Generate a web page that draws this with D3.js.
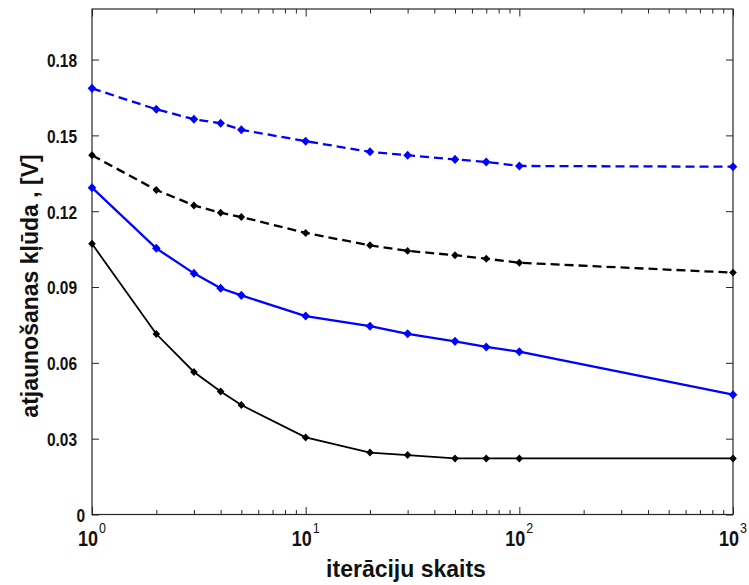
<!DOCTYPE html>
<html>
<head>
<meta charset="utf-8">
<script src="https://cdn.jsdelivr.net/npm/d3@7.9.0/dist/d3.min.js"></script>
<style>
  body { margin: 0; background: #fff; }
  svg { display: block; font-family: "Liberation Sans", Arial, sans-serif; }
</style>
</head>
<body>
<svg id="chart" width="749" height="585"></svg>
<script>
// iteration counts (x) and the four error curves
const iterations = [1, 2, 3, 4, 5, 10, 20, 30, 50, 70, 100, 1000];
const blueDashed = [0.1686, 0.1603, 0.1564, 0.1548, 0.1522, 0.1477, 0.1435, 0.1421, 0.1405, 0.1395, 0.1379, 0.1376];
const blackDashed = [0.1421, 0.1284, 0.1223, 0.1194, 0.1177, 0.1114, 0.1065, 0.1043, 0.1026, 0.1012, 0.0996, 0.0957];
const blueSolid = [0.1293, 0.1053, 0.0954, 0.0895, 0.0867, 0.0785, 0.0745, 0.0715, 0.0685, 0.0663, 0.0644, 0.0474];
const blackSolid = [0.1071, 0.0714, 0.0564, 0.0487, 0.0433, 0.0305, 0.0245, 0.0235, 0.0222, 0.0222, 0.0222, 0.0222];

const yTicks = [0, 0.03, 0.06, 0.09, 0.12, 0.15, 0.18];
const xMajor = [1, 10, 100, 1000];
const xExponents = ["0", "1", "2", "3"];

const series = [
    { values: blueDashed, color: "#0000ff", dash: "9,5", width: 2.3, mark: 4.3 },
    { values: blackDashed, color: "#000000", dash: "9,5", width: 2.3, mark: 3.8 },
    { values: blueSolid, color: "#0000ff", dash: null, width: 2.3, mark: 4.3 },
    { values: blackSolid, color: "#000000", dash: null, width: 1.8, mark: 3.8 }
];

const svg = d3.select('#chart');
const pLeft = 92, pRight = 733, pTop = 9, pBottom = 514.5;

const x = d3.scaleLog().domain([1, 1000]).range([pLeft, pRight]);
const y = d3.scaleLinear().domain([0, 0.2]).range([pBottom, pTop]);

const axisColor = '#262626';

// minor + major ticks, bottom and top (inward)
const minor = x.ticks().filter(t => !xMajor.includes(t));
function xAxis(gen, ty) {
    const g = svg.append('g').attr('transform', `translate(0,${ty})`).call(gen);
    g.select('.domain').remove();
    g.selectAll('.tick text').remove();
    g.selectAll('.tick line').attr('stroke', axisColor);
}
xAxis(d3.axisBottom(x).tickValues(minor).tickSize(-4.5), pBottom);
xAxis(d3.axisBottom(x).tickValues(xMajor).tickSize(-7.5), pBottom);
xAxis(d3.axisTop(x).tickValues(minor).tickSize(-4.5), pTop);
xAxis(d3.axisTop(x).tickValues(xMajor).tickSize(-7.5), pTop);

// y axis left with labels, right mirrored
const yLeft = svg.append('g')
    .attr('transform', `translate(${pLeft},0)`)
    .call(d3.axisLeft(y).tickValues(yTicks).tickSize(-7)
        .tickFormat(d => d === 0 ? '0' : d.toFixed(2)));
yLeft.select('.domain').remove();
yLeft.selectAll('.tick line').attr('stroke', axisColor);
yLeft.selectAll('.tick text')
    .attr('x', d => d === 0 ? -7 : -15)
    .attr('dy', '0.36em')
    .attr('transform', 'scale(1,1.22)')
    .attr('fill', '#111')
    .style('font-size', '15.5px')
    .style('font-weight', 'bold');

const yRight = svg.append('g')
    .attr('transform', `translate(${pRight},0)`)
    .call(d3.axisRight(y).tickValues(yTicks).tickSize(-7).tickFormat(''));
yRight.select('.domain').remove();
yRight.selectAll('.tick line').attr('stroke', axisColor);

// frame
svg.append('rect')
    .attr('x', pLeft).attr('y', pTop)
    .attr('width', pRight - pLeft).attr('height', pBottom - pTop)
    .attr('fill', 'none').attr('stroke', axisColor).attr('stroke-width', 1.2);

// x tick labels 10^n
const xl = svg.append('g').selectAll('g').data(xMajor).join('g')
    .attr('transform', d => `translate(${x(d)},546) scale(1,1.2)`);
const xt = xl.append('text')
    .attr('text-anchor', 'middle')
    .attr('fill', '#111');
xt.append('tspan').text('10').style('font-size', '18px').style('font-weight', 'bold');
xt.append('tspan').text((d, i) => xExponents[i]).attr('dy', -10.8).attr('dx', 1)
    .style('font-size', '12.5px');

// lines + diamond markers (matlab style, nearly square diamond)
const line = d3.line().x(d => x(d[0])).y(d => y(d[1]));
function diamondOf(w) {
    return d3.symbol().type({
        draw(ctx) {
            const h = w * 1.05;
            ctx.moveTo(0, -h); ctx.lineTo(w, 0); ctx.lineTo(0, h); ctx.lineTo(-w, 0); ctx.closePath();
        }
    });
}

series.forEach(s => {
    const pts = iterations.map((it, i) => [it, s.values[i]]);
    svg.append('path')
        .datum(pts)
        .attr('d', line)
        .attr('fill', 'none')
        .attr('stroke', s.color)
        .attr('stroke-width', s.width)
        .attr('stroke-dasharray', s.dash);
    svg.append('g').selectAll('path').data(pts).join('path')
        .attr('d', diamondOf(s.mark))
        .attr('transform', d => `translate(${x(d[0])},${y(d[1])})`)
        .attr('fill', s.color);
});

// axis titles
svg.append('text')
    .attr('x', 406).attr('y', 577)
    .attr('text-anchor', 'middle')
    .attr('fill', '#111')
    .style('font-size', '23px').style('font-weight', 'bold')
    .text('iterāciju skaits');

svg.append('text')
    .attr('transform', 'translate(38,286) rotate(-90)')
    .attr('text-anchor', 'middle')
    .attr('fill', '#111')
    .style('font-size', '23px').style('font-weight', 'bold')
    .text('atjaunošanas kļūda , [V]');
</script>
</body>
</html>
